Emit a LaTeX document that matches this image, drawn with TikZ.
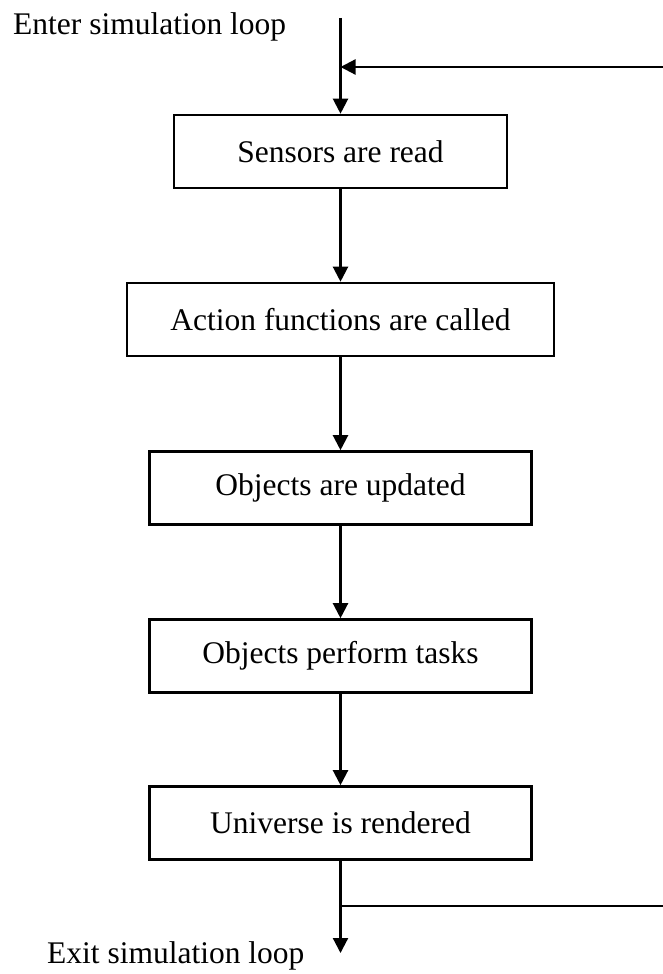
\documentclass[tikz,border=0pt]{standalone}
\usepackage{fontspec}
\setmainfont{Liberation Serif}
\usetikzlibrary{arrows.meta}
\begin{document}
\begin{tikzpicture}[x=1pt,y=-1pt,
  every node/.style={font=\fontsize{31.5}{36}\selectfont},
  stepbox/.style={draw,line width=2.6pt,minimum height=73pt,inner sep=0pt,anchor=center},
  flow/.style={line width=2.2pt,-{Triangle[length=15pt,width=15pt]}},
  plain/.style={line width=2.2pt}]
\useasboundingbox (0,0) rectangle (662,974);

% process steps
\node[stepbox,minimum width=333pt] (s1) at (340.5,151.5) {Sensors are read};
\node[stepbox,minimum width=427pt] (s2) at (340.5,319.5) {Action functions are called};
\node[stepbox,minimum width=382pt] (s3) at (340.5,488) {Objects are updated};
\node[stepbox,minimum width=382pt] (s4) at (340.5,656) {Objects perform tasks};
\node[stepbox,minimum width=382pt] (s5) at (340.5,823) {Universe is rendered};

% labels
\node[anchor=base west,inner sep=0pt] (enter) at (13,35) {Enter simulation loop};
\node[anchor=base west,inner sep=0pt] (exit) at (47,963) {Exit simulation loop};

% loop points
\coordinate (top) at (340.5,18);
\coordinate (join) at (340.5,67);
\coordinate (joinR) at (663,67);
\coordinate (split) at (340.5,906);
\coordinate (splitR) at (663,906);
\coordinate (out) at (340.5,953);

% connectors
\draw[flow] (top) -- (s1.north);
\draw[flow] (joinR) -- (join);
\draw[flow] (s1) -- (s2);
\draw[flow] (s2) -- (s3);
\draw[flow] (s3) -- (s4);
\draw[flow] (s4) -- (s5);
\draw[flow] (s5.south) -- (out);
\draw[plain] (split) -- (splitR);
\end{tikzpicture}
\end{document}
